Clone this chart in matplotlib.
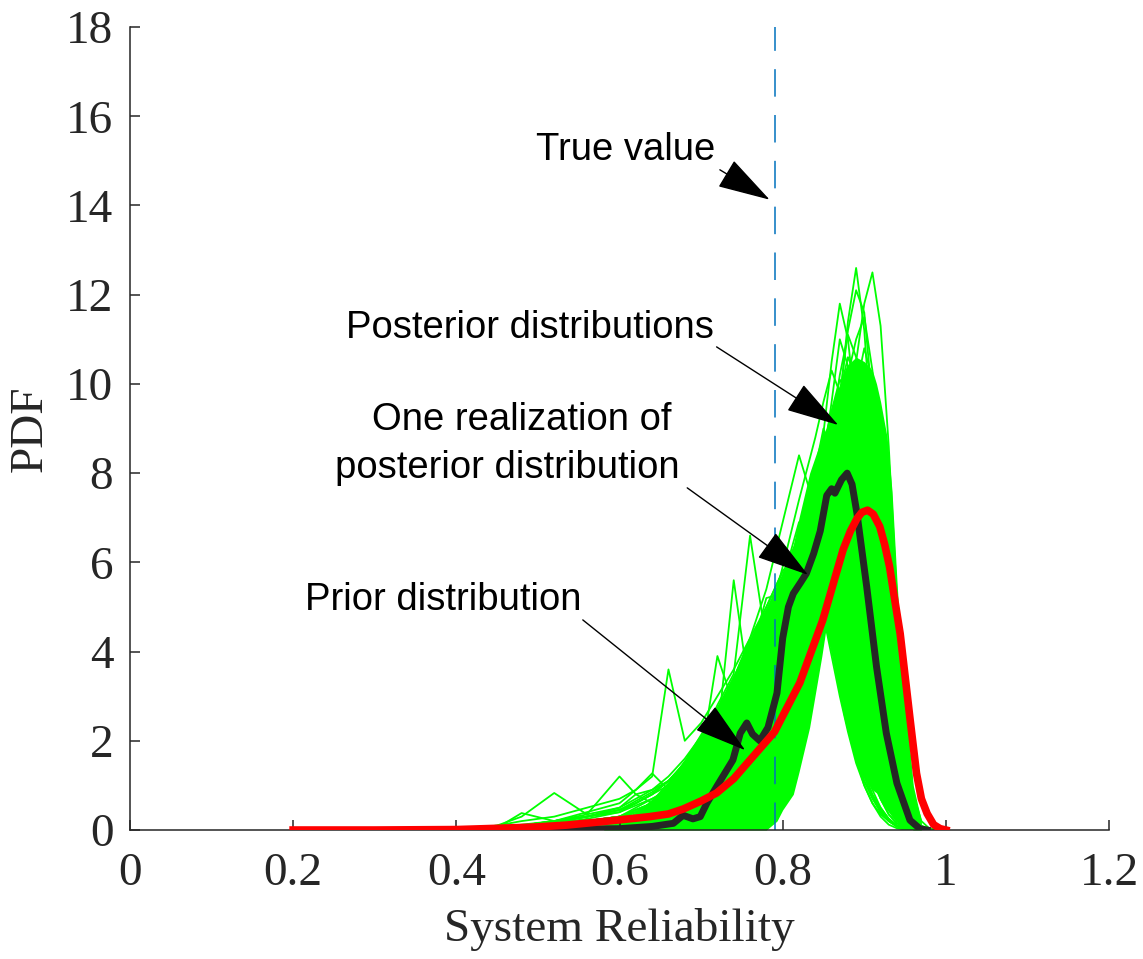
import matplotlib
matplotlib.use("Agg")
import matplotlib.pyplot as plt

# x grid shared by the posterior (green) curves
green_x = [0.40, 0.45, 0.48, 0.52, 0.56, 0.60, 0.62, 0.64, 0.66, 0.68, 0.70,
           0.72, 0.74, 0.76, 0.78, 0.80, 0.82, 0.84, 0.85, 0.86, 0.87, 0.88,
           0.89, 0.90, 0.91, 0.92, 0.93, 0.94, 0.95, 0.96, 0.97, 0.98, 1.00]

# posterior distributions
green_y = [
    [0, 0, 0, 0, 0, 0, 0, 0, 0, 0, 0.05, 0.1, 0.15, 0.25, 0.4, 0.8, 1.6, 3.2, 4.3, 5.6, 7.2, 8.9, 10.5, 11.8, 12.5, 11.3, 8.6, 5.2, 2.6, 0.8, 0.2, 0.03, 0],
    [0, 0, 0, 0, 0, 0.02, 0.05, 0.1, 0.1, 0.15, 0.2, 0.3, 0.5, 0.8, 1.3, 2.1, 3.4, 5.2, 6.4, 7.9, 9.6, 11.4, 12.6, 11.2, 8.6, 5.8, 3.3, 1.5, 0.5, 0.12, 0.02, 0, 0],
    [0, 0, 0, 0, 0.02, 0.05, 0.08, 0.1, 0.15, 0.2, 0.3, 0.45, 0.7, 1.1, 1.7, 2.6, 3.9, 5.6, 6.7, 8.1, 9.7, 11.2, 12.1, 11.6, 9.6, 7.0, 4.4, 2.2, 0.8, 0.2, 0.04, 0, 0],
    [0, 0, 0, 0, 0, 0.03, 0.05, 0.08, 0.12, 0.2, 0.3, 0.5, 0.8, 1.2, 1.8, 2.8, 4.0, 5.4, 6.3, 7.4, 8.8, 10.2, 11.0, 11.5, 10.3, 8.0, 5.3, 2.8, 1.1, 0.3, 0.06, 0, 0],
    [0, 0, 0, 0.02, 0.05, 0.1, 0.15, 0.2, 0.3, 0.4, 0.6, 0.9, 1.3, 1.9, 2.7, 3.7, 5.0, 6.6, 7.7, 9.0, 10.2, 11.1, 10.6, 9.0, 6.8, 4.5, 2.5, 1.1, 0.4, 0.1, 0.02, 0, 0],
    [0, 0, 0.02, 0.05, 0.1, 0.2, 0.3, 0.4, 0.55, 0.7, 1.0, 1.4, 2.0, 2.8, 3.7, 4.8, 6.1, 7.6, 8.5, 9.4, 10.1, 9.7, 8.5, 6.8, 4.8, 3.0, 1.6, 0.7, 0.25, 0.06, 0.01, 0, 0],
    [0, 0.02, 0.05, 0.1, 0.2, 0.3, 0.45, 0.6, 0.8, 1.1, 1.5, 2.0, 2.7, 3.5, 4.4, 5.5, 6.6, 7.7, 8.4, 9.0, 8.6, 7.5, 6.0, 4.3, 2.8, 1.6, 0.8, 0.3, 0.1, 0.02, 0, 0, 0],
    [0, 0, 0.02, 0.05, 0.1, 0.15, 0.25, 0.35, 0.5, 0.7, 0.95, 1.3, 1.8, 2.5, 3.3, 4.3, 5.5, 6.9, 7.8, 8.8, 9.8, 10.6, 10.1, 8.6, 6.4, 4.2, 2.3, 1.0, 0.35, 0.08, 0.02, 0, 0],
    [0, 0, 0.03, 0.08, 0.15, 0.25, 0.35, 0.5, 0.7, 0.9, 1.2, 1.6, 2.3, 3.1, 4.0, 5.0, 6.2, 7.4, 8.2, 9.0, 9.6, 9.8, 9.0, 7.5, 5.5, 3.6, 2.0, 0.9, 0.3, 0.07, 0.01, 0, 0],
    [0, 0, 0, 0.02, 0.05, 0.1, 0.15, 0.25, 0.35, 0.5, 0.7, 1.0, 1.4, 2.0, 2.8, 3.8, 5.0, 6.3, 7.0, 7.8, 8.6, 9.2, 9.5, 8.9, 7.4, 5.4, 3.4, 1.8, 0.7, 0.2, 0.04, 0, 0],
    [0, 0.02, 0.05, 0.1, 0.15, 0.25, 0.4, 0.55, 0.75, 1.0, 1.35, 1.8, 2.6, 3.4, 4.5, 5.9, 7.4, 8.8, 9.6, 10.3, 9.8, 8.7, 7.0, 5.2, 3.4, 2.0, 1.0, 0.4, 0.12, 0.03, 0, 0, 0],
    [0, 0, 0.02, 0.05, 0.1, 0.15, 0.2, 0.3, 0.45, 0.6, 0.85, 1.2, 1.7, 2.4, 3.3, 4.4, 5.9, 7.7, 8.9, 10.5, 11.8, 11.0, 9.3, 7.0, 4.7, 2.8, 1.4, 0.6, 0.2, 0.05, 0.01, 0, 0],
    [0, 0.02, 0.05, 0.1, 0.2, 0.3, 0.4, 0.55, 0.7, 0.9, 1.2, 1.6, 2.1, 2.8, 3.5, 4.3, 5.2, 6.1, 6.7, 7.3, 7.9, 8.4, 8.1, 7.2, 5.8, 4.2, 2.7, 1.4, 0.6, 0.18, 0.04, 0, 0],
    [0, 0.05, 0.1, 0.2, 0.35, 0.5, 0.7, 0.9, 1.2, 1.6, 2.1, 2.7, 3.4, 4.2, 5.0, 5.8, 6.2, 5.9, 5.0, 4.2, 3.2, 2.3, 1.6, 1.1, 0.75, 0.45, 0.25, 0.1, 0.04, 0.01, 0, 0, 0],
    [0, 0.02, 0.05, 0.1, 0.2, 0.3, 0.4, 0.6, 0.8, 1.1, 1.5, 2.0, 2.6, 3.4, 4.3, 5.4, 6.5, 7.2, 6.4, 5.0, 3.6, 2.5, 1.6, 1.0, 0.6, 0.3, 0.12, 0.04, 0.01, 0, 0, 0, 0],
    [0, 0.05, 0.1, 0.15, 0.3, 0.45, 0.6, 0.8, 1.1, 1.5, 2.0, 2.8, 3.5, 6.6, 4.2, 5.6, 6.9, 6.5, 5.6, 4.6, 3.5, 2.5, 1.7, 1.1, 0.7, 0.4, 0.2, 0.08, 0.03, 0.01, 0, 0, 0],
    [0, 0.1, 0.2, 0.3, 0.5, 0.7, 0.9, 1.2, 3.6, 2.0, 2.4, 3.0, 3.6, 4.3, 5.0, 5.8, 6.3, 5.8, 4.8, 3.9, 3.0, 2.2, 1.5, 1.0, 0.6, 0.35, 0.2, 0.08, 0.03, 0, 0, 0, 0],
    [0, 0.05, 0.1, 0.2, 0.3, 0.4, 0.6, 0.8, 1.0, 1.3, 1.6, 3.9, 2.8, 3.6, 4.4, 5.4, 6.6, 7.4, 7.8, 7.2, 5.9, 4.5, 3.2, 2.1, 1.3, 0.7, 0.35, 0.15, 0.05, 0.01, 0, 0, 0],
    [0, 0.1, 0.3, 0.83, 0.35, 1.2, 0.8, 0.9, 1.1, 1.3, 1.8, 2.4, 3.1, 3.9, 4.7, 5.5, 6.3, 6.8, 6.2, 5.3, 4.2, 3.1, 2.2, 1.4, 0.9, 0.5, 0.25, 0.1, 0.03, 0.01, 0, 0, 0],
    [0, 0.05, 0.38, 0.2, 0.4, 0.6, 0.9, 1.27, 0.9, 1.4, 1.9, 2.2, 3.0, 3.3, 4.3, 5.2, 6.2, 7.0, 7.5, 6.9, 5.6, 4.3, 3.0, 2.0, 1.2, 0.7, 0.35, 0.15, 0.05, 0.01, 0, 0, 0],
    [0, 0.03, 0.08, 0.15, 0.25, 0.4, 0.55, 0.7, 0.9, 1.2, 1.6, 2.0, 2.7, 3.3, 4.2, 5.2, 6.4, 7.8, 8.6, 8.1, 6.9, 5.4, 3.9, 2.6, 1.6, 0.9, 0.45, 0.2, 0.07, 0.02, 0, 0, 0],
    [0, 0.02, 0.1, 0.2, 0.3, 0.5, 0.8, 0.6, 1.0, 1.4, 1.3, 2.2, 2.5, 3.4, 3.9, 4.9, 5.8, 7.0, 7.5, 7.9, 7.3, 6.2, 4.9, 3.6, 2.4, 1.4, 0.7, 0.3, 0.1, 0.02, 0, 0, 0],
    [0, 0.02, 0.05, 0.1, 0.2, 0.3, 0.45, 0.6, 0.8, 1.0, 1.3, 1.8, 2.3, 3.0, 3.8, 4.7, 5.9, 7.2, 8.0, 8.7, 9.2, 8.8, 7.7, 6.1, 4.3, 2.7, 1.4, 0.6, 0.2, 0.05, 0.01, 0, 0],
    [0, 0, 0.02, 0.05, 0.1, 0.15, 0.2, 0.3, 0.4, 0.55, 0.75, 1.0, 1.4, 1.9, 2.6, 3.5, 4.6, 6.0, 6.9, 7.9, 8.9, 9.9, 9.6, 8.4, 6.5, 4.4, 2.6, 1.3, 0.5, 0.12, 0.02, 0, 0],
    [0, 0, 0, 0.02, 0.05, 0.1, 0.15, 0.2, 0.3, 0.4, 0.55, 0.75, 1.0, 1.4, 2.0, 2.8, 3.8, 5.0, 5.8, 6.7, 7.7, 8.8, 9.9, 10.8, 10.1, 8.2, 5.7, 3.3, 1.5, 0.5, 0.1, 0.01, 0],
    [0, 0.03, 0.07, 0.12, 0.2, 0.3, 0.5, 0.7, 0.9, 1.2, 1.6, 2.1, 5.6, 3.0, 3.6, 4.6, 5.6, 6.8, 7.5, 8.2, 7.6, 6.4, 5.0, 3.6, 2.4, 1.4, 0.7, 0.3, 0.1, 0.02, 0, 0, 0],
    [0, 0.05, 0.12, 0.2, 0.3, 0.45, 0.6, 0.8, 1.1, 1.5, 1.9, 2.5, 3.2, 3.9, 5.2, 5.3, 6.7, 6.6, 5.8, 4.8, 3.8, 2.8, 1.9, 1.2, 0.75, 0.4, 0.2, 0.08, 0.02, 0, 0, 0, 0],
    [0, 0, 0, 0.02, 0.04, 0.08, 0.12, 0.18, 0.25, 0.35, 0.5, 0.7, 1.0, 1.4, 1.9, 2.6, 3.5, 4.7, 5.4, 6.2, 7.1, 8.0, 8.8, 8.4, 7.1, 5.2, 3.3, 1.7, 0.7, 0.2, 0.04, 0, 0],
    [0, 0.02, 0.06, 0.12, 0.2, 0.3, 0.45, 0.6, 0.8, 1.05, 1.4, 1.9, 2.5, 3.2, 4.1, 5.2, 6.5, 8.1, 9.0, 8.4, 7.1, 5.6, 4.1, 2.8, 1.7, 1.0, 0.5, 0.2, 0.07, 0.02, 0, 0, 0],
    [0, 0.05, 0.1, 0.2, 0.3, 0.45, 0.65, 0.85, 1.1, 1.5, 2.0, 2.6, 3.4, 4.3, 5.4, 6.9, 8.4, 7.2, 6.0, 4.8, 3.7, 2.7, 1.9, 1.3, 0.8, 0.5, 0.25, 0.1, 0.03, 0.01, 0, 0, 0],
    [0, 0, 0.03, 0.06, 0.1, 0.18, 0.28, 0.4, 0.55, 0.75, 1.0, 1.35, 1.9, 2.6, 3.4, 4.4, 5.7, 7.3, 8.3, 9.6, 11.0, 10.4, 8.8, 6.6, 4.4, 2.6, 1.3, 0.55, 0.18, 0.04, 0.01, 0, 0],
]

# densely overlapped core of the posterior bundle (solid green in the figure)
core_x = [0.58, 0.60, 0.62, 0.64, 0.66, 0.68, 0.70, 0.72, 0.74, 0.76, 0.78, 0.793,
          0.80, 0.813, 0.82, 0.833, 0.848, 0.853, 0.86, 0.874, 0.878, 0.89, 0.90,
          0.91, 0.915, 0.92, 0.928, 0.934, 0.94, 0.944, 0.95, 0.96, 0.97]
core_hi = [0.0, 0.2, 0.4, 0.7, 1.1, 1.6, 2.2, 2.8, 3.5, 4.3, 5.0, 5.5,
           5.8, 6.4, 7.0, 8.0, 8.8, 9.0, 9.5, 10.2, 10.4, 10.6, 10.5,
           10.3, 10.0, 9.6, 8.8, 7.6, 5.6, 4.4, 3.0, 1.0, 0.2]
core_lo = [0, 0, 0, 0, 0, 0, 0, 0, 0, 0, 0, 0.2,
           0.45, 0.8, 1.3, 2.3, 3.9, 4.5, 3.9, 2.6, 2.3, 1.5, 1.15,
           0.9, 0.83, 0.65, 0.45, 0.3, 0.2, 0.15, 0.1, 0, 0]

# one realization of the posterior (black)
one_x = [0.40, 0.50, 0.60, 0.64, 0.666, 0.678, 0.690, 0.699, 0.707, 0.719, 0.730,
         0.739, 0.748, 0.756, 0.763, 0.772, 0.782, 0.793, 0.800, 0.807, 0.813,
         0.822, 0.829, 0.838, 0.846, 0.854, 0.860, 0.864, 0.872, 0.879, 0.885,
         0.891, 0.903, 0.915, 0.927, 0.940, 0.956, 0.968, 0.977]
one_y = [0, 0.01, 0.03, 0.08, 0.15, 0.33, 0.25, 0.3, 0.6, 0.97, 1.3,
         1.57, 2.17, 2.4, 2.15, 2.0, 2.3, 3.07, 4.3, 5.0, 5.3,
         5.55, 5.75, 6.2, 6.7, 7.5, 7.65, 7.55, 7.85, 8.0, 7.75,
         7.1, 5.45, 3.66, 2.17, 1.05, 0.22, 0.03, 0]

# prior distribution (red)
prior_x = [0.20, 0.30, 0.40, 0.453, 0.50, 0.535, 0.58, 0.617, 0.637, 0.66, 0.678,
           0.70, 0.719, 0.74, 0.76, 0.79, 0.821, 0.849, 0.874, 0.883, 0.891,
           0.897, 0.904, 0.911, 0.919, 0.925, 0.931, 0.937, 0.944, 0.950, 0.956,
           0.964, 0.970, 0.977, 0.985, 0.993, 1.00]
prior_y = [0, 0, 0.01, 0.04, 0.07, 0.11, 0.19, 0.26, 0.3, 0.36, 0.47,
           0.65, 0.83, 1.15, 1.57, 2.2, 3.3, 4.7, 6.28, 6.7, 6.98,
           7.12, 7.17, 7.08, 6.8, 6.4, 5.9, 5.2, 4.4, 3.45, 2.5,
           1.27, 0.7, 0.37, 0.12, 0.03, 0]

true_value = 0.79

plt.rcParams['font.family'] = 'Liberation Serif'

fig = plt.figure(figsize=(11.43, 9.59), dpi=100)
ax = fig.add_axes([0.1137, 0.1345, 0.8566, 0.8373])

ax.fill_between(core_x, core_lo, core_hi, color='#00ff00', lw=0, zorder=1)
for y in green_y:
    ax.plot(green_x, y, color='#00ff00', lw=1.3, zorder=1)

ax.plot([true_value, true_value], [0, 18], color='#0072BD', lw=1.1,
        linestyle=(0, (18, 12)), zorder=2)
ax.plot(one_x, one_y, color='#262626', lw=5.0, zorder=3, solid_joinstyle='round')
ax.plot(prior_x, prior_y, color='#ff0000', lw=5.5, zorder=4,
        solid_capstyle='projecting', solid_joinstyle='round')

ax.set_xlim(0, 1.2)
ax.set_ylim(0, 18)
ax.set_xticks([0, 0.2, 0.4, 0.6, 0.8, 1.0, 1.2])
ax.set_xticklabels(['0', '0.2', '0.4', '0.6', '0.8', '1', '1.2'])
ax.set_yticks(range(0, 19, 2))
ax.tick_params(direction='in', length=7, width=1.1, colors='#262626',
               labelsize=34, labelcolor='#262626')
ax.tick_params(axis='x', pad=16)
ax.tick_params(axis='y', pad=12)
for s in ['top', 'right']:
    ax.spines[s].set_visible(False)
for s in ['left', 'bottom']:
    ax.spines[s].set_linewidth(1.1)
    ax.spines[s].set_color('#262626')

ax.set_xlabel('System Reliability', fontsize=34, color='#262626')
ax.set_ylabel('PDF', fontsize=34, color='#262626')
ax.xaxis.set_label_coords(0.5, -0.097)
ax.yaxis.set_label_coords(-0.08, 0.5)

# annotations
afont = dict(family='Liberation Sans', fontsize=27.5, color='black')
aprops = dict(arrowstyle='-|>,head_length=1.7,head_width=0.5', color='black',
              lw=1.0, mutation_scale=20, shrinkA=0, shrinkB=0)

ax.text(0.607, 15.02, 'True value', ha='center', va='baseline', **afont)
ax.annotate('', xy=(0.784, 14.13), xytext=(0.723, 14.80), arrowprops=aprops, zorder=6)

ax.text(0.490, 11.03, 'Posterior distributions', ha='center', va='baseline', **afont)
ax.annotate('', xy=(0.868, 9.08), xytext=(0.719, 10.83), arrowprops=aprops, zorder=6)

ax.text(0.480, 8.97, 'One realization of', ha='center', va='baseline', **afont)
ax.text(0.463, 7.89, 'posterior distribution', ha='center', va='baseline', **afont)
ax.annotate('', xy=(0.831, 5.72), xytext=(0.683, 7.67), arrowprops=aprops, zorder=6)

ax.text(0.384, 4.93, 'Prior distribution', ha='center', va='baseline', **afont)
ax.annotate('', xy=(0.754, 1.79), xytext=(0.555, 4.71), arrowprops=aprops, zorder=6)

fig.savefig('out.png', dpi=100)
